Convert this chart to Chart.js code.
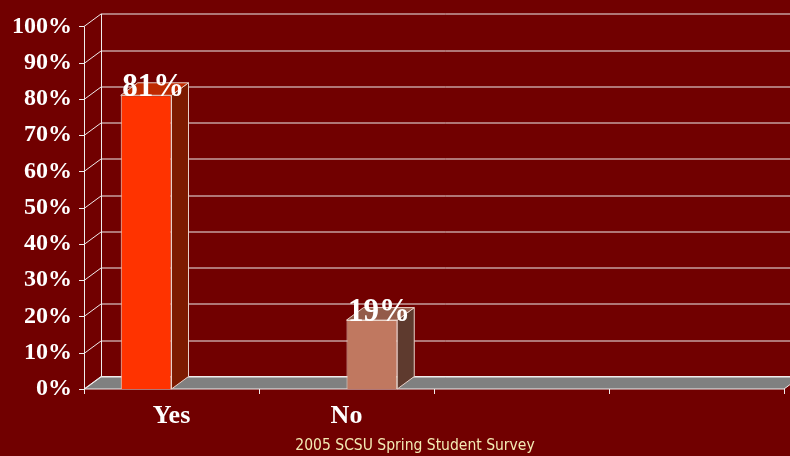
<!DOCTYPE html>
<html>
<head>
<meta charset="utf-8">
<script src="https://cdn.jsdelivr.net/npm/chart.js@4/dist/chart.umd.min.js"></script>
<style>
  html, body { margin: 0; padding: 0; background: #710000; }
</style>
</head>
<body>
<canvas id="surveyChart" width="790" height="456"></canvas>
<script>
// values
const categories = ['Yes', 'No', '', ''];
const answerValues = [81, 19];
const frontColors = ['#FF3300', '#C07860'];
const sideColors = ['#7C1A00', '#5E3A2E'];
const topColors = ['#BE2A00', '#935B49'];
const footerText = '2005 SCSU Spring Student Survey';

// fake 3d depth
const DX = 17;
const DY = -12.5;

const serif = 'Liberation Serif, Times New Roman, serif';

const depthPlugin = {
    id: 'depth',
    beforeDatasetsDraw(chart) {
        const { ctx, chartArea: a, scales: { y } } = chart;
        ctx.save();
        ctx.lineWidth = 1;
        ctx.strokeStyle = '#F0ECEC';

        // floor
        ctx.fillStyle = '#808080';
        ctx.beginPath();
        ctx.moveTo(a.left, a.bottom);
        ctx.lineTo(a.right, a.bottom);
        ctx.lineTo(a.right + DX, a.bottom + DY);
        ctx.lineTo(a.left + DX, a.bottom + DY);
        ctx.closePath();
        ctx.fill();
        ctx.stroke();

        // back wall grid + left wall diagonals
        y.ticks.forEach(t => {
            const py = Math.round(y.getPixelForValue(t.value)) + 0.5;
            ctx.beginPath();
            ctx.moveTo(a.left + DX, py + DY);
            ctx.lineTo(chart.width, py + DY);
            ctx.moveTo(a.left, py);
            ctx.lineTo(a.left + DX, py + DY);
            ctx.moveTo(a.left - 5, py);
            ctx.lineTo(a.left, py);
            ctx.stroke();
        });
        ctx.beginPath();
        ctx.moveTo(a.left + DX + 0.5, a.top + DY);
        ctx.lineTo(a.left + DX + 0.5, a.bottom + DY);
        ctx.moveTo(a.left + 0.5, a.top);
        ctx.lineTo(a.left + 0.5, a.bottom + 5);
        ctx.stroke();

        // category ticks under the front edge
        const step = a.width / categories.length;
        ctx.beginPath();
        for (let i = 1; i <= categories.length; i++) {
            const px = Math.round(a.left + i * step) + 0.5;
            ctx.moveTo(px, a.bottom);
            ctx.lineTo(px, a.bottom + 5);
        }
        ctx.stroke();
        ctx.restore();
    },
    afterDatasetsDraw(chart) {
        const { ctx } = chart;
        ctx.save();
        chart.data.datasets.forEach((ds, i) => {
            const meta = chart.getDatasetMeta(i);
            meta.data.forEach((bar, j) => {
                if (ds.data[j] == null) return;
                const { x, y, base, width } = bar.getProps(['x', 'y', 'base', 'width'], true);
                const l = x - width / 2, r = x + width / 2;
                ctx.strokeStyle = '#E8D0C8';
                ctx.lineWidth = 1;
                // side
                ctx.fillStyle = sideColors[i];
                ctx.beginPath();
                ctx.moveTo(r, y);
                ctx.lineTo(r + DX, y + DY);
                ctx.lineTo(r + DX, base + DY);
                ctx.lineTo(r, base);
                ctx.closePath();
                ctx.fill();
                ctx.stroke();
                // top
                ctx.fillStyle = topColors[i];
                ctx.beginPath();
                ctx.moveTo(l, y);
                ctx.lineTo(l + DX, y + DY);
                ctx.lineTo(r + DX, y + DY);
                ctx.lineTo(r, y);
                ctx.closePath();
                ctx.fill();
                ctx.stroke();
                // value label, a bit taller like the slide font
                ctx.save();
                ctx.translate(x + 7, y + 1);
                ctx.scale(1, 1.12);
                ctx.fillStyle = '#FFFFFF';
                ctx.font = 'bold 31px ' + serif;
                ctx.textAlign = 'center';
                ctx.textBaseline = 'alphabetic';
                ctx.fillText(ds.data[j] + '%', 0, 0);
                ctx.restore();
            });
        });
        ctx.restore();
    },
    afterDraw(chart) {
        const { ctx } = chart;
        ctx.save();
        ctx.fillStyle = '#F4EAB4';
        ctx.font = '15.5px "DejaVu Sans Condensed", "DejaVu Sans", sans-serif';
        ctx.textAlign = 'center';
        ctx.textBaseline = 'alphabetic';
        ctx.fillText(footerText, 415, 450);
        ctx.restore();
    }
};

document.addEventListener('DOMContentLoaded', () => {
    new Chart(document.getElementById('surveyChart'), {
        type: 'bar',
        data: {
            labels: categories,
            datasets: answerValues.map((v, i) => ({
                label: categories[i],
                data: categories.map((c, j) => (j === i ? v : null)),
                backgroundColor: frontColors[i],
                borderColor: '#F0D8CC',
                borderWidth: 1,
                barPercentage: 1,
                categoryPercentage: 0.58
            }))
        },
        options: {
            responsive: false,
            animation: false,
            devicePixelRatio: 1,
            layout: { padding: { top: 22, right: 6, left: 0, bottom: 0 } },
            plugins: { legend: { display: false }, tooltip: { enabled: false } },
            scales: {
                x: {
                    grid: { display: false, drawTicks: false },
                    border: { display: false },
                    ticks: {
                        color: '#FFFFFF',
                        font: { family: serif, weight: 'bold', size: 26 },
                        padding: 12,
                        maxRotation: 0
                    },
                    afterFit(s) { s.height = 67; }
                },
                y: {
                    min: 0,
                    max: 100,
                    grid: { display: false, drawTicks: false },
                    border: { display: false },
                    ticks: {
                        stepSize: 10,
                        color: '#FFFFFF',
                        font: { family: serif, weight: 'bold', size: 24 },
                        padding: 12,
                        callback: v => v + '%'
                    },
                    afterFit(s) { s.width = 84; }
                }
            }
        },
        plugins: [depthPlugin]
    });
});
</script>
</body>
</html>
